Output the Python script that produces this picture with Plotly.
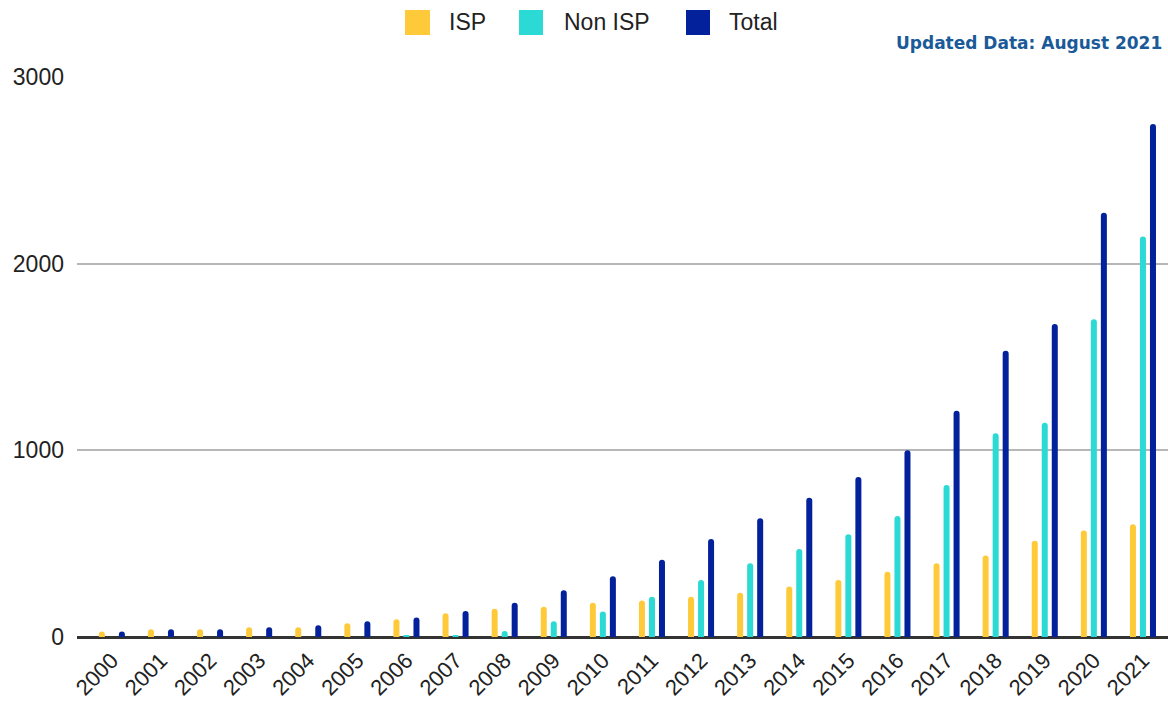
import plotly.graph_objects as go

years = [str(y) for y in range(2000, 2022)]
isp = [30, 41, 41, 52, 52, 73, 95, 127, 152, 162, 184, 195, 216, 237, 270, 305, 350, 395, 436, 516, 570, 604]
non_isp = [0, 0, 0, 0, 0, 0, 10, 10, 32, 84, 136, 216, 305, 395, 471, 550, 648, 814, 1091, 1148, 1702, 2145]
total = [30, 41, 41, 52, 63, 84, 105, 139, 184, 250, 325, 414, 525, 636, 746, 857, 1000, 1212, 1534, 1677, 2273, 2748]

series_names = ["ISP", "Non ISP", "Total"]
series_values = [isp, non_isp, total]
series_colors = ["#FFCA3A", "#2BDAD5", "#03219A"]

fig = go.Figure()
for name, vals, col in zip(series_names, series_values, series_colors):
    fig.add_trace(go.Bar(x=years, y=vals, name=name, marker=dict(color=col, cornerradius=3, line=dict(width=0)),
                         showlegend=False))

# custom legend (large swatches)
legend_x = [(405, 430, 447), (519, 543, 562), (686, 710, 727)]
W, H = 1168, 705
for (x0, x1, tx), name, col in zip(legend_x, series_names, series_colors):
    fig.add_shape(type="rect", xref="paper", yref="paper",
                  x0=(x0 - 77) / (W - 77), x1=(x1 - 77) / (W - 77),
                  y0=(637 - 35) / 560, y1=(637 - 10) / 560,
                  fillcolor=col, line=dict(width=0), layer="above")
    fig.add_annotation(xref="paper", yref="paper", x=(tx - 77) / (W - 77), y=(637 - 22) / 560,
                       text=name, showarrow=False, xanchor="left", yanchor="middle",
                       font=dict(family="Liberation Sans, Arial", size=23, color="#222222"))

fig.add_annotation(xref="paper", yref="paper", x=(1164 - 77) / (W - 77), y=(637 - 43) / 560,
                   xanchor="right", yanchor="middle",
                   text="<b>Updated Data: August 2021</b>", showarrow=False,
                   font=dict(family="DejaVu Sans", size=17, color="#1A5A98"))

fig.update_layout(
    width=W, height=H,
    margin=dict(l=77, r=0, t=77, b=68),
    paper_bgcolor="white", plot_bgcolor="white",
    barmode="group", bargap=0.388, bargroupgap=0.4,
    font=dict(family="Liberation Sans, Arial", size=23, color="#222222"),
)
fig.update_xaxes(type="category", range=[-0.71, 21.51], tickangle=-45, showgrid=False,
                 showline=True, linecolor="#333333", linewidth=2, ticks="", automargin=False,
                 tickfont=dict(size=22))
fig.update_yaxes(range=[0, 3000], tickvals=[0, 1000, 2000, 3000], showgrid=True, gridcolor="#B7B7B7",
                 gridwidth=2, zeroline=True, zerolinecolor="#333333", zerolinewidth=2,
                 ticklabelstandoff=12, automargin=False, tickfont=dict(size=23))

fig.write_html("out.html", config={"displayModeBar": False},
               post_script="document.body.style.margin='0';document.body.style.overflow='hidden';")
